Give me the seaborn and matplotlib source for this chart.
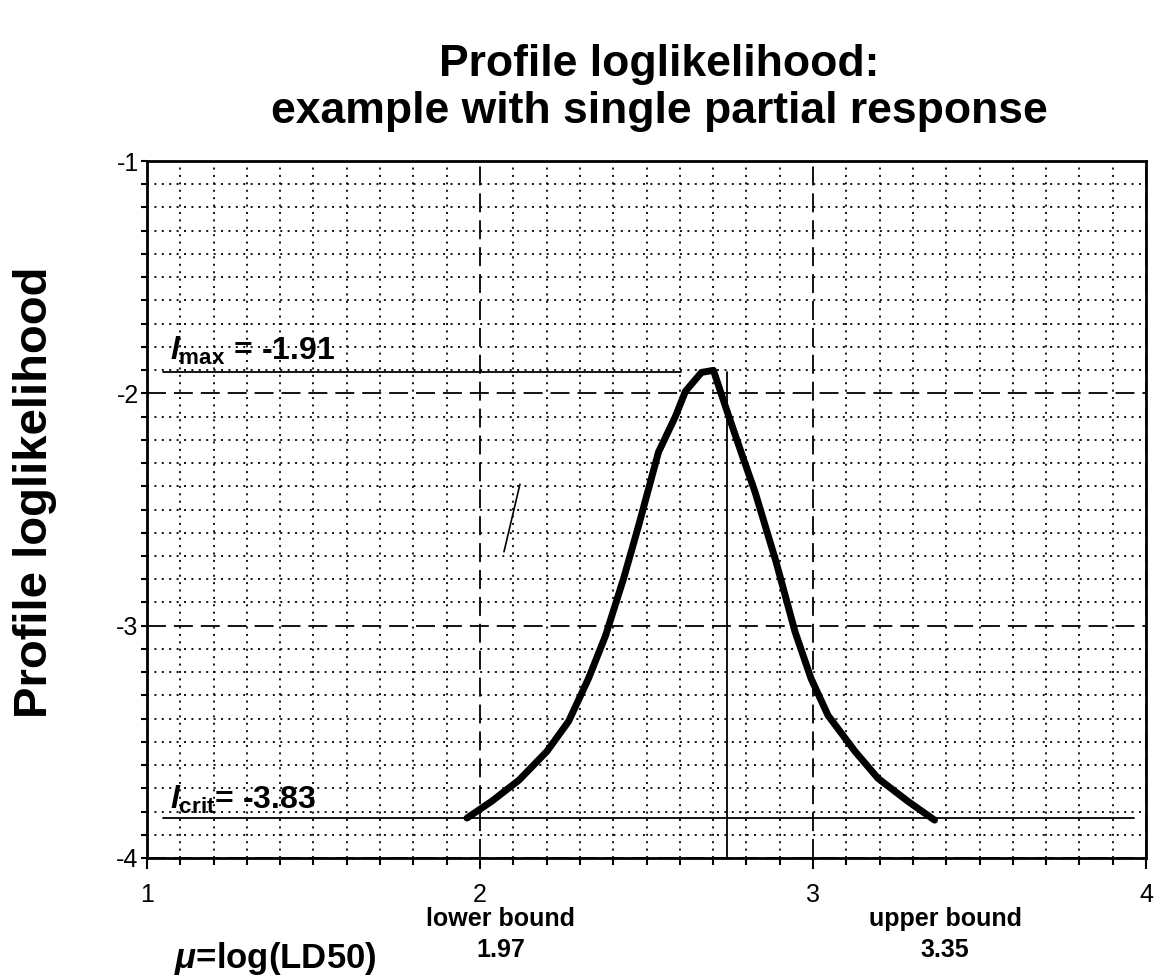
import numpy as np
import pandas as pd
import matplotlib
matplotlib.use("Agg")
import matplotlib.pyplot as plt
import seaborn as sns
from matplotlib.ticker import MultipleLocator

# profile loglikelihood curve
mu = [1.961, 2.036, 2.117, 2.201, 2.266, 2.326, 2.377, 2.431, 2.476, 2.536,
      2.587, 2.617, 2.665, 2.701, 2.737, 2.784, 2.826, 2.889, 2.946, 2.994,
      3.045, 3.126, 3.195, 3.284, 3.365]
loglik = [-3.828, -3.755, -3.665, -3.541, -3.412, -3.227, -3.043, -2.798, -2.571, -2.253,
          -2.099, -1.991, -1.910, -1.901, -2.056, -2.253, -2.425, -2.725, -3.026, -3.227,
          -3.386, -3.541, -3.657, -3.755, -3.837]

l_max = -1.91
l_crit = -3.83
mu_hat = 2.742
lower_bound = 1.97
upper_bound = 3.35

# stray short segment in the original chart
stray_x = [2.072, 2.120]
stray_y = [-2.682, -2.391]

sns.set_style("white")
plt.rcParams['font.family'] = ['Liberation Sans', 'DejaVu Sans']
plt.rcParams['text.color'] = 'black'
plt.rcParams['xtick.color'] = 'black'
plt.rcParams['ytick.color'] = 'black'
plt.rcParams['mathtext.fontset'] = 'custom'
plt.rcParams['mathtext.rm'] = 'Liberation Sans:bold'
plt.rcParams['mathtext.bf'] = 'Liberation Sans:bold'
plt.rcParams['mathtext.it'] = 'Liberation Sans:italic:bold'

fig = plt.figure(figsize=(11.61, 9.8), dpi=100)
ax = fig.add_axes([0.1266, 0.1245, 0.8605, 0.7112])

curve = pd.DataFrame({'mu': mu, 'loglik': loglik})
sns.lineplot(data=curve, x='mu', y='loglik', sort=False, estimator=None,
             color='black', linewidth=5, ax=ax, zorder=5)
ax.plot(stray_x, stray_y, color='black', linewidth=1.2, zorder=4)

# reference lines
ax.plot([1.048, 2.605], [l_max, l_max], color='black', linewidth=1.3, zorder=4)
ax.plot([1.048, 3.964], [l_crit, l_crit], color='black', linewidth=1.3, zorder=4)
ax.plot([mu_hat, mu_hat], [l_max, -4], color='black', linewidth=1.3, zorder=4)

ax.set_xlim(1, 4)
ax.set_ylim(-4, -1)
ax.set_xticks([1, 2, 3, 4])
ax.set_xticklabels(['1', '2', '3', '4'])
ax.set_yticks([-4, -3, -2, -1])
ax.set_yticklabels(['-4', '-3', '-2', '-1'])
ax.xaxis.set_minor_locator(MultipleLocator(0.1))
ax.yaxis.set_minor_locator(MultipleLocator(0.1))

ax.grid(which='major', color='black', linewidth=1.3, linestyle=(0, (10.5, 4.4)))
ax.grid(which='minor', color='black', linewidth=1.3, linestyle=(0, (1.1, 3.0)))
ax.set_axisbelow(True)

for s in ax.spines.values():
    s.set_visible(True)
    s.set_color('black')
    s.set_linewidth(2)

ax.tick_params(axis='x', which='major', direction='out', length=8, width=1.5,
               pad=10, labelsize=18)
ax.tick_params(axis='x', which='minor', direction='out', length=5, width=1.5)
ax.tick_params(axis='y', which='both', direction='out', length=4, width=1.5,
               pad=2, labelsize=18)
ax.tick_params(axis='both', which='both', bottom=True, left=True, top=False, right=False)

ax.set_xlabel('')
ax.set_ylabel('')

fig.text(0.030, 0.498, 'Profile loglikelihood', rotation=90, ha='center', va='center',
         fontsize=34, fontweight='bold')

fig.suptitle('Profile loglikelihood:\nexample with single partial response',
             x=0.568, y=(980 - 123) / 980, va='baseline', fontsize=32,
             fontweight='bold', linespacing=1.2)

ax.text(1.07, -1.855, r'$\mathit{l}_{\mathbf{max}}$' + ' = -1.91', fontsize=23,
        fontweight='bold', ha='left', va='baseline')
ax.text(1.07, -3.79, r'$\mathit{l}_{\mathbf{crit}}$' + '= -3.83', fontsize=23,
        fontweight='bold', ha='left', va='baseline')

fig.text(0.431, (980 - 957) / 980, 'lower bound\n%.2f' % lower_bound, ha='center',
         va='baseline', fontsize=18, fontweight='bold', linespacing=1.35)
fig.text(0.814, (980 - 957) / 980, 'upper bound\n%.2f' % upper_bound, ha='center',
         va='baseline', fontsize=18, fontweight='bold', linespacing=1.35)
fig.text(0.150, (980 - 968) / 980, r'$\mathit{\mu}$' + '=log(LD50)', ha='left',
         va='baseline', fontsize=25, fontweight='bold')

fig.savefig('out.png', dpi=100)
